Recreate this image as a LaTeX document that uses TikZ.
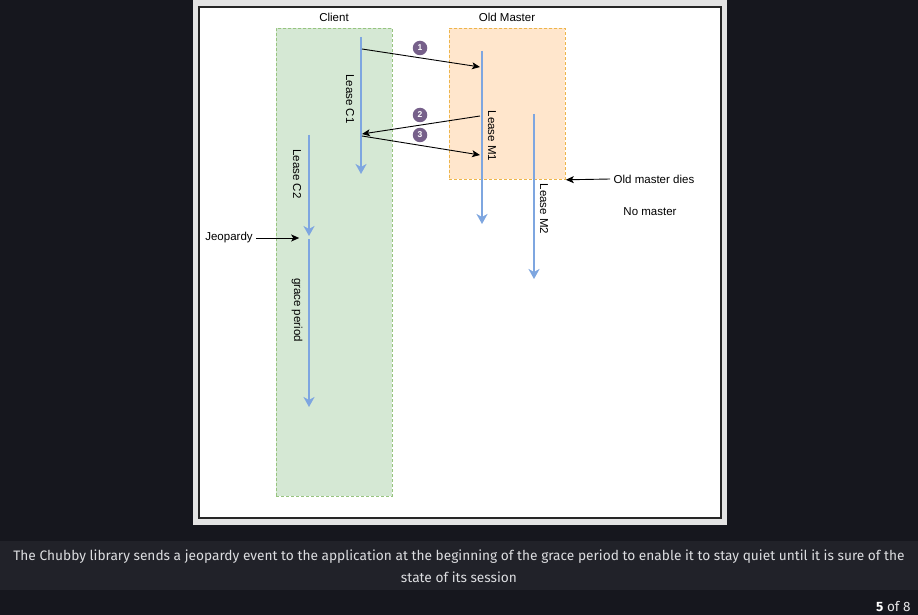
\documentclass[tikz,border=0pt]{standalone}
\usepackage{fontspec}
\setmainfont{Liberation Sans}
\newfontfamily\capfont{Fira Sans}
\usetikzlibrary{positioning,arrows.meta}

\definecolor{pagebg}{HTML}{16171E}
\definecolor{capbg}{HTML}{212229}
\definecolor{framegrey}{HTML}{E4E4E4}
\definecolor{leaseblue}{HTML}{7EA6E0}
\definecolor{clientfill}{HTML}{D5E8D4}
\definecolor{clientline}{HTML}{97C47F}
\definecolor{masterfill}{HTML}{FFE6CC}
\definecolor{masterline}{HTML}{EDB54A}
\definecolor{badgepurple}{HTML}{76608A}
\definecolor{captext}{HTML}{DCDDE0}

\begin{document}
\begin{tikzpicture}[x=1pt,y=-1pt,
				every node/.style={font=\fontsize{11.5}{13}\selectfont},
				lane/.style={draw,dash pattern=on 3pt off 2pt,line width=0.8pt,inner sep=0pt,anchor=north west},
				lease/.style={draw=leaseblue,line width=2pt,-{Stealth[length=10pt,width=11pt,inset=3pt]}},
				msg/.style={draw=black,line width=0.9pt,-{Stealth[length=8pt,width=7pt,inset=2pt]}},
				badge/.style={circle,fill=badgepurple,text=white,inner sep=0pt,minimum size=14.5pt,font=\fontsize{8.5}{8.5}\selectfont\bfseries},
				vlabel/.style={rotate=-90,inner sep=1pt}]
				\useasboundingbox (0,0) rectangle (918,615);
				% page and caption band
				\fill[pagebg] (0,0) rectangle (918,615);
				\fill[capbg] (0,541) rectangle (918,590);
				\fill[framegrey] (193,0) rectangle (727,525);
				\draw[fill=white,line width=1.2pt,draw=black!85] (199,7) rectangle (721,518);
				
				% lanes
				\node[lane,draw=clientline,fill=clientfill,minimum width=116pt,minimum height=468pt] (client) at (276,28) {};
				\node[lane,draw=masterline,fill=masterfill,minimum width=116pt,minimum height=151pt] (master) at (449,28) {};
				\node (clienttitle) at (334,17.5) {Client};
				\node (mastertitle) at (507,17.5) {Old Master};
				
				% leases
				\coordinate (c1s) at (361,37);   \coordinate (c1e) at (361,174);
				\coordinate (c2s) at (309,135);  \coordinate (c2e) at (309,236);
				\coordinate (gps) at (309,239);  \coordinate (gpe) at (309,407);
				\coordinate (m1s) at (482,51);   \coordinate (m1e) at (482,224);
				\coordinate (m2s) at (534,114);  \coordinate (m2e) at (534,279);
				\draw[lease] (c1s) -- (c1e);
				\draw[lease] (c2s) -- (c2e);
				\draw[lease] (gps) -- (gpe);
				\draw[lease] (m1s) -- (m1e);
				\draw[lease] (m2s) -- (m2e);
				\node[vlabel] (leasec1) at (350,99)  {Lease C1};
				\node[vlabel] (leasec2) at (297,174) {Lease C2};
				\node[vlabel] (grace)   at (297,310) {grace period};
				\node[vlabel] (leasem1) at (492,136) {Lease M1};
				\node[vlabel] (leasem2) at (544,209) {Lease M2};
				
				% messages
				\coordinate (c1a) at (362,49);  \coordinate (m1a) at (480,67);
				\coordinate (m1b) at (480,116); \coordinate (c1b) at (362,134);
				\coordinate (c1c) at (362,136); \coordinate (m1c) at (480,155);
				\draw[msg] (c1a) -- (m1a);
				\draw[msg] (m1b) -- (c1b);
				\draw[msg] (c1c) -- (m1c);
				\node[badge] (one)   at (420,48)  {1};
				\node[badge] (two)   at (420,115) {2};
				\node[badge] (three) at (420,135) {3};
				
				% events
				\node (dies) at (654,179) {Old master dies};
				\node (nomaster) at (650,212) {No master};
				\node (jeopardy) at (229,238) {Jeopardy};
				\draw[msg] (dies.west) -- (master.south east);
				\draw[msg] (jeopardy.east) -- ++(43,0);
				
				% caption
				\node[font=\capfont\fontsize{13.7}{22}\selectfont,text=captext,align=center] (caption) at (459,566)
					{The Chubby library sends a jeopardy event to the application at the beginning of the grace period to enable it to stay quiet until it is sure of the\\ state of its session};
				\node[font=\capfont\fontsize{13.5}{15}\selectfont,text=captext!70,anchor=east] (pager) at (914,607)
					{\textcolor{white}{\bfseries 5} of 8};
			\end{tikzpicture}
\end{document}
